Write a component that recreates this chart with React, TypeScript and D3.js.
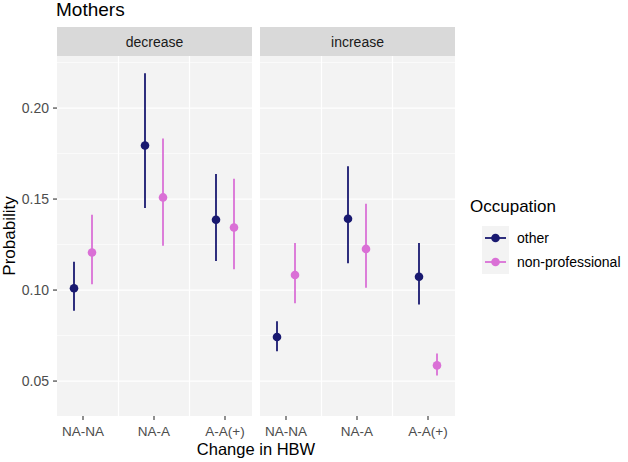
import React from "react";
import * as d3 from "d3";

const panels = ["decrease", "increase"];
const categories = ["NA-NA", "NA-A", "A-A(+)"];
const groups = ["other", "non-professional"];
const colors = ["#191970", "#DA70D6"];

// estimate, low, high per panel per category
const otherEst = [[0.101, 0.1794, 0.1386], [0.0742, 0.1392, 0.1073]];
const otherLow = [[0.0886, 0.1451, 0.116], [0.0664, 0.1147, 0.0921]];
const otherHigh = [[0.1156, 0.2191, 0.1638], [0.0829, 0.168, 0.1258]];
const profEst = [[0.1206, 0.1509, 0.1344], [0.1083, 0.1226, 0.0586]];
const profLow = [[0.1032, 0.1243, 0.1114], [0.0927, 0.1013, 0.0531]];
const profHigh = [[0.1414, 0.1833, 0.1612], [0.1259, 0.1474, 0.0651]];

const yTicks = [0.05, 0.1, 0.15, 0.2];
const yMinor = [0.075, 0.125, 0.175, 0.225];

const font = "'Liberation Sans', Arial, sans-serif";

export default function App() {
  const width = 628;
  const height = 462;
  const top = 56;
  const bottom = 416;
  const panelX = [57, 260];
  const panelW = 195;
  const stripH = 29;

  const y = d3.scaleLinear().domain([0.0308, 0.2286]).range([bottom, top]);
  const x = d3
    .scalePoint<string>()
    .domain(categories)
    .range([26, 168]);
  const dodge = 9;

  const est = [otherEst, profEst];
  const low = [otherLow, profLow];
  const high = [otherHigh, profHigh];

  return (
    <svg width={width} height={height} style={{ position: "absolute", left: 0, top: 0 }}>
      <rect width={width} height={height} fill="#ffffff" />
      <text x={56} y={16} fontFamily={font} fontSize={19} fill="#000">
        Mothers
      </text>
      {panels.map((p, pi) => (
        <g key={p} transform={`translate(${panelX[pi]},0)`}>
          <rect x={0} y={top - stripH} width={panelW} height={stripH} fill="#D9D9D9" />
          <text
            x={panelW / 2}
            y={top - stripH / 2 + 5}
            textAnchor="middle"
            fontFamily={font}
            fontSize={14}
            fill="#1A1A1A"
          >
            {p}
          </text>
          <rect x={0} y={top} width={panelW} height={bottom - top} fill="#F3F3F3" />
          {yMinor.map((t) => (
            <line key={t} x1={0} x2={panelW} y1={y(t)} y2={y(t)} stroke="#fff" strokeWidth={0.6} />
          ))}
          {yTicks.map((t) => (
            <line key={t} x1={0} x2={panelW} y1={y(t)} y2={y(t)} stroke="#fff" strokeWidth={1.2} />
          ))}
          {categories.slice(1).map((c, i) => {
            const xm = ((x(categories[i]) as number) + (x(c) as number)) / 2;
            return <line key={c} x1={xm} x2={xm} y1={top} y2={bottom} stroke="#fff" strokeWidth={1.2} />;
          })}
          {categories.map((c) => (
            <g key={c}>
              <line x1={x(c)} x2={x(c)} y1={bottom} y2={bottom + 4} stroke="#333" strokeWidth={1.1} />
              <text
                x={x(c)}
                y={bottom + 20}
                textAnchor="middle"
                fontFamily={font}
                fontSize={13.5}
                fill="#4D4D4D"
              >
                {c}
              </text>
            </g>
          ))}
          {groups.map((g, gi) =>
            categories.map((c, ci) => {
              const cx = (x(c) as number) + (gi === 0 ? -dodge : dodge);
              return (
                <g key={g + c}>
                  <line
                    x1={cx}
                    x2={cx}
                    y1={y(low[gi][pi][ci])}
                    y2={y(high[gi][pi][ci])}
                    stroke={colors[gi]}
                    strokeWidth={1.8}
                  />
                  <circle cx={cx} cy={y(est[gi][pi][ci])} r={4.3} fill={colors[gi]} />
                </g>
              );
            })
          )}
        </g>
      ))}
      {yTicks.map((t) => (
        <g key={t}>
          <line x1={53} x2={57} y1={y(t)} y2={y(t)} stroke="#333" strokeWidth={1.1} />
          <text
            x={49}
            y={y(t) + 5}
            textAnchor="end"
            fontFamily={font}
            fontSize={14}
            fill="#4D4D4D"
          >
            {t.toFixed(2)}
          </text>
        </g>
      ))}
      <text
        transform={`translate(15,${(top + bottom) / 2}) rotate(-90)`}
        textAnchor="middle"
        fontFamily={font}
        fontSize={17}
        fill="#000"
      >
        Probability
      </text>
      <text x={256} y={455} textAnchor="middle" fontFamily={font} fontSize={16.5} fill="#000">
        Change in HBW
      </text>
      <text x={470} y={212} fontFamily={font} fontSize={17} fill="#000">
        Occupation
      </text>
      {groups.map((g, gi) => {
        const ky = 238 + gi * 24;
        return (
          <g key={g}>
            <rect x={482} y={ky - 12} width={27} height={24} fill="#F3F3F3" />
            <line x1={485} x2={506} y1={ky} y2={ky} stroke={colors[gi]} strokeWidth={1.8} />
            <circle cx={495.5} cy={ky} r={4.3} fill={colors[gi]} />
            <text x={517} y={ky + 5} fontFamily={font} fontSize={14} fill="#000">
              {g}
            </text>
          </g>
        );
      })}
    </svg>
  );
}
